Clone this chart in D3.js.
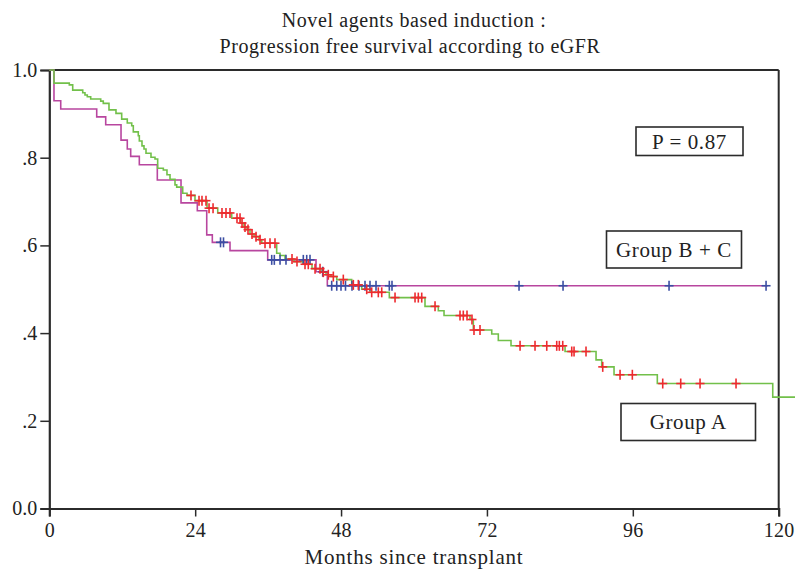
<!DOCTYPE html>
<html><head><meta charset="utf-8">
<script src="https://cdn.jsdelivr.net/npm/d3@7"></script>
<style>
body{margin:0;background:#fff;}
svg{display:block;font-family:"Liberation Serif","Times New Roman",serif;}
</style></head>
<body>
<svg id="chart" width="795" height="572"></svg>
<script>
// ---- Data ----
const titleLines = ["Novel agents based induction :", "Progression free survival according to eGFR"];
const xLabel = "Months since transplant";
const xTicks = [0, 24, 48, 72, 96, 120];
const yTicks = [0, 0.2, 0.4, 0.6, 0.8, 1.0];
const yTickLabels = ["0.0", ".2", ".4", ".6", ".8", "1.0"];
const pLabel = "P = 0.87";
const groupLabels = ["Group B + C", "Group A"];

// Group A (green curve, red censor marks): step times and survival after each step
const groupATimes = [0, 0.77, 3.29, 3.85, 5.50, 5.87, 6.25, 6.81, 8.46, 8.88, 9.82, 10.97, 11.91, 12.83, 13.56, 13.82, 14.64, 14.81, 15.25, 15.58, 15.91, 16.73, 17.39, 17.83, 18.76, 19.36, 19.86, 20.68, 20.96, 21.95, 22.66, 23.97, 25.95, 27.71, 30.01, 31.46, 32.03, 32.53, 33.02, 33.68, 34.50, 34.95, 37.41, 37.96, 38.78, 40.26, 41.74, 43.22, 44.87, 45.53, 46.35, 47.29, 49.75, 51.40, 52.76, 55.94, 61.81, 64.00, 64.94, 69.21, 69.76, 72.79, 73.87, 75.96, 84.85, 89.95, 90.88, 92.91, 100.03, 119.02];
const groupASurv  = [1.0, 0.970, 0.966, 0.954, 0.948, 0.943, 0.939, 0.934, 0.929, 0.924, 0.909, 0.901, 0.888, 0.879, 0.873, 0.859, 0.850, 0.838, 0.827, 0.820, 0.810, 0.801, 0.797, 0.776, 0.772, 0.761, 0.751, 0.738, 0.733, 0.719, 0.714, 0.702, 0.685, 0.674, 0.662, 0.651, 0.642, 0.636, 0.626, 0.620, 0.613, 0.605, 0.582, 0.577, 0.569, 0.563, 0.557, 0.547, 0.539, 0.533, 0.529, 0.522, 0.510, 0.500, 0.493, 0.481, 0.461, 0.451, 0.440, 0.431, 0.407, 0.398, 0.383, 0.371, 0.358, 0.339, 0.323, 0.305, 0.285, 0.254];
const groupAEnd = 122.7;
const groupACensored = [23.31, 24.63, 25.12, 25.78, 26.28, 26.94, 28.41, 29.07, 29.73, 30.88, 31.38, 31.71, 32.20, 32.69, 33.35, 34.01, 34.67, 35.49, 36.31, 37.13, 39.93, 40.75, 42.07, 42.61, 43.72, 44.54, 45.08, 45.90, 46.73, 48.37, 50.02, 50.84, 52.22, 53.04, 54.13, 54.69, 56.88, 60.17, 60.71, 61.27, 63.46, 67.57, 68.11, 68.72, 69.54, 69.87, 70.86, 77.45, 79.91, 81.84, 83.48, 83.91, 84.47, 85.95, 86.33, 88.30, 91.05, 93.90, 95.92, 100.92, 103.88, 107.06, 112.98];

// Group B + C (magenta curve, blue censor marks)
const groupBCTimes = [0, 0.77, 1.88, 7.80, 9.28, 11.80, 12.83, 13.39, 14.81, 17.77, 21.67, 24.35, 25.90, 26.82, 29.73, 35.93, 43.88, 45.74];
const groupBCSurv  = [1.0, 0.930, 0.911, 0.893, 0.875, 0.840, 0.820, 0.803, 0.784, 0.749, 0.697, 0.679, 0.624, 0.607, 0.588, 0.567, 0.540, 0.508];
const groupBCEnd = 118.2;
const groupBCCensored = [28.17, 28.66, 36.59, 37.02, 37.96, 38.94, 41.79, 42.35, 42.89, 44.98, 46.46, 47.29, 47.99, 48.73, 49.80, 50.95, 51.94, 52.76, 53.75, 55.94, 56.38, 77.28, 84.52, 101.96, 117.92];

// ---- Drawing ----
const svg = d3.select("#chart");
const x = d3.scaleLinear().domain([0, 120]).range([49.3, 778.7]);
const y = d3.scaleLinear().domain([0, 1]).range([508.5, 70]);

const colGreen = "#72c04a", colPink = "#b8469f", colRed = "#ee2a2f", colBlue = "#3b4ea3", colAxis = "#2b2b2b";

// title
svg.append("text").attr("x", 414).attr("y", 27).attr("text-anchor", "middle")
  .attr("font-size", 20).attr("letter-spacing", 0.6).attr("fill", "#222").text(titleLines[0]);
svg.append("text").attr("x", 410).attr("y", 53).attr("text-anchor", "middle")
  .attr("font-size", 20).attr("letter-spacing", 0.55).attr("fill", "#222").text(titleLines[1]);

// frame (top & right)
svg.append("line").attr("x1", x(0)).attr("x2", x(120)).attr("y1", y(1)).attr("y2", y(1))
  .attr("stroke", colAxis).attr("stroke-width", 2);
svg.append("line").attr("x1", x(120)).attr("x2", x(120)).attr("y1", y(1)).attr("y2", y(0))
  .attr("stroke", colAxis).attr("stroke-width", 2);

// axes
const xAxis = d3.axisBottom(x).tickValues(xTicks).tickSize(8).tickPadding(6).tickFormat(d3.format("d"));
const gx = svg.append("g").attr("transform", `translate(0,${y(0)})`).call(xAxis);
gx.select(".domain").attr("stroke", colAxis).attr("stroke-width", 2.2);
gx.selectAll(".tick line").attr("stroke", colAxis).attr("stroke-width", 1.5);
gx.selectAll(".tick text").attr("font-size", 20).attr("fill", "#222").attr("letter-spacing", 0.3)
  .attr("font-family", "Liberation Serif, serif").attr("dy", "0.72em");

const yAxis = d3.axisLeft(y).tickValues(yTicks).tickSize(9).tickPadding(3)
  .tickFormat((d, i) => yTickLabels[i]);
const gy = svg.append("g").attr("transform", `translate(${x(0)},0)`).call(yAxis);
gy.select(".domain").attr("stroke", colAxis).attr("stroke-width", 2.2);
gy.selectAll(".tick line").attr("stroke", colAxis).attr("stroke-width", 1.5);
gy.selectAll(".tick text").attr("font-size", 20).attr("fill", "#222")
  .attr("font-family", "Liberation Serif, serif");

// x label
svg.append("text").attr("x", 414).attr("y", 564).attr("text-anchor", "middle")
  .attr("font-size", 21).attr("letter-spacing", 0.8).attr("fill", "#222").text(xLabel);

// step curves
function stepPoints(times, surv, end) {
  const pts = times.map((t, i) => [t, surv[i]]);
  pts.push([end, surv[surv.length - 1]]);
  return pts;
}
function survAt(times, surv, t) {
  let s = surv[0];
  for (let i = 0; i < times.length; i++) if (times[i] <= t) s = surv[i];
  return s;
}
const line = d3.line().x(d => x(d[0])).y(d => y(d[1])).curve(d3.curveStepAfter);

svg.append("path").datum(stepPoints(groupBCTimes, groupBCSurv, groupBCEnd))
  .attr("d", line).attr("fill", "none").attr("stroke", colPink).attr("stroke-width", 1.6);
svg.append("path").datum(stepPoints(groupATimes, groupASurv, groupAEnd))
  .attr("d", line).attr("fill", "none").attr("stroke", colGreen).attr("stroke-width", 1.6);

function drawCensors(times, stepT, stepS, color) {
  const g = svg.append("g").attr("stroke", color).attr("stroke-width", 1.6);
  times.forEach(t => {
    const cx = x(t), cy = y(survAt(stepT, stepS, t));
    g.append("line").attr("x1", cx - 4.5).attr("x2", cx + 4.5).attr("y1", cy).attr("y2", cy);
    g.append("line").attr("x1", cx).attr("x2", cx).attr("y1", cy - 5).attr("y2", cy + 5);
  });
}
drawCensors(groupBCCensored, groupBCTimes, groupBCSurv, colBlue);
drawCensors(groupACensored, groupATimes, groupASurv, colRed);

// annotation boxes
function box(x0, y0, w, h, label) {
  svg.append("rect").attr("x", x0).attr("y", y0).attr("width", w).attr("height", h)
    .attr("fill", "#fff").attr("stroke", colAxis).attr("stroke-width", 1.6);
  svg.append("text").attr("x", x0 + w / 2).attr("y", y0 + h / 2).attr("dy", "0.35em")
    .attr("text-anchor", "middle").attr("font-size", 21).attr("letter-spacing", 0.6)
    .attr("fill", "#222").text(label);
}
box(636, 127, 107, 28.5, pLabel);
box(606.5, 231, 135, 37, groupLabels[0]);
box(621, 403.5, 134.5, 37, groupLabels[1]);
</script>
</body></html>
